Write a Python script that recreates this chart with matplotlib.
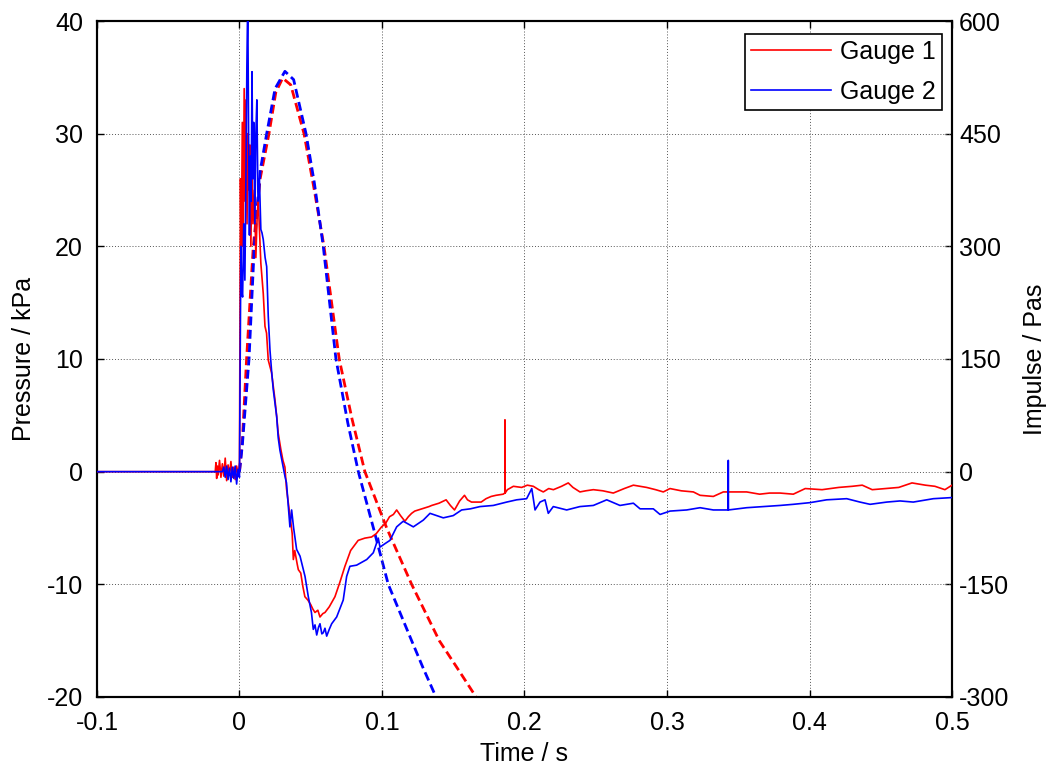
import matplotlib
matplotlib.use("Agg")
import matplotlib.pyplot as plt

plt.rcParams['font.family'] = ['Liberation Sans', 'DejaVu Sans']
plt.rcParams['axes.unicode_minus'] = False

# ---------------- data ----------------
# Gauge 1 pressure (kPa)
g1_t = [-0.1, -0.017, -0.0165, -0.016, -0.0155, -0.015, -0.014, -0.013, -0.012, -0.011,
        -0.010, -0.009, -0.008, -0.007, -0.006, -0.005, -0.004, -0.003, -0.002, -0.001,
        0.0, 0.0007, 0.0012, 0.0020, 0.0026, 0.0033, 0.0040, 0.0046, 0.0053, 0.0060,
        0.0066, 0.0073, 0.0080, 0.0088, 0.0095, 0.0105, 0.0115, 0.0125, 0.0132, 0.0150,
        0.0167, 0.0179, 0.0190, 0.0202, 0.0225, 0.0249, 0.0262, 0.0272, 0.0290, 0.0305,
        0.0319, 0.0330, 0.0345, 0.0360, 0.0370, 0.0378, 0.0388, 0.0395, 0.0405, 0.0413,
        0.0430, 0.0445, 0.0459, 0.0480, 0.0500, 0.0515, 0.0530, 0.0550, 0.0565, 0.0585,
        0.0600, 0.0630, 0.0670, 0.0705, 0.0740, 0.0780, 0.0833, 0.0880, 0.0927, 0.0960,
        0.0997, 0.1025, 0.1053, 0.1080, 0.1103, 0.1130, 0.1161, 0.1185, 0.1208, 0.1230,
        0.1254, 0.1280, 0.1305, 0.1330, 0.1349, 0.1400, 0.1450, 0.1480, 0.1509, 0.1545,
        0.1579, 0.1600, 0.1628, 0.1696, 0.1730, 0.1766, 0.1800, 0.1850, 0.1862, 0.1863,
        0.1864, 0.1880, 0.1922, 0.1980, 0.2020, 0.2062, 0.2100, 0.2132, 0.2170, 0.2203,
        0.2260, 0.2307, 0.2340, 0.2389, 0.2430, 0.2483, 0.2550, 0.2623, 0.2700, 0.2764,
        0.2810, 0.2857, 0.2920, 0.2974, 0.3021, 0.3100, 0.3185, 0.3232, 0.3325, 0.3395,
        0.3489, 0.3559, 0.3650, 0.3720, 0.3793, 0.3886, 0.3970, 0.4088, 0.4205, 0.4300,
        0.4370, 0.4440, 0.4533, 0.4626, 0.4719, 0.4813, 0.4880, 0.4950, 0.5000]
g1_p = [0.0, 0.0, 0.8, -0.6, 0.5, -0.3, 1.0, -0.5, 0.7, -0.4,
        1.2, -0.8, 0.6, -0.3, 0.9, -0.5, 0.4, -0.7, 0.5, -0.2,
        0.3, 26.0, 18.0, 31.0, 20.0, 34.0, 24.0, 33.0, 22.0, 30.0,
        25.0, 29.0, 20.0, 27.0, 22.0, 25.0, 19.0, 23.0, 24.0, 18.5,
        15.8, 12.9, 12.3, 9.9, 8.8, 6.4, 4.8, 3.4, 2.0, 1.0,
        0.4, -1.5, -3.0, -4.5, -5.5, -7.8, -7.0, -7.5, -8.2, -8.7,
        -9.0, -10.2, -11.1, -11.4, -11.8, -12.2, -12.5, -12.3, -12.9, -12.6,
        -12.5, -12.0, -11.1, -9.8, -8.4, -7.0, -6.1, -5.9, -5.8, -5.5,
        -4.9, -4.6, -4.0, -3.8, -3.4, -3.9, -4.4, -4.0, -3.7, -3.5,
        -3.4, -3.3, -3.2, -3.1, -3.0, -2.8, -2.5, -3.0, -3.4, -2.6,
        -2.1, -2.5, -2.7, -2.7, -2.4, -2.2, -2.1, -2.0, -1.9, 4.6,
        -1.9, -1.6, -1.3, -1.4, -1.2, -1.3, -1.6, -1.8, -1.5, -1.6,
        -1.3, -1.0, -1.4, -1.8, -1.7, -1.6, -1.7, -1.9, -1.5, -1.2,
        -1.3, -1.4, -1.6, -1.8, -1.5, -1.7, -1.8, -2.1, -2.2, -1.8,
        -1.8, -1.8, -2.0, -1.9, -1.9, -2.0, -1.5, -1.6, -1.4, -1.3,
        -1.2, -1.6, -1.5, -1.4, -1.0, -1.2, -1.3, -1.6, -1.2]

# Gauge 2 pressure (kPa)
g2_t = [-0.1, -0.012, -0.011, -0.010, -0.009, -0.008, -0.007, -0.006, -0.005, -0.004,
        -0.003, -0.002, -0.001, 0.0, 0.0006, 0.0010, 0.0016, 0.0022, 0.0030, 0.0038,
        0.0046, 0.0052, 0.0058, 0.0064, 0.0070, 0.0076, 0.0082, 0.0088, 0.0094, 0.0100,
        0.0108, 0.0115, 0.0122, 0.0130, 0.0140, 0.0150, 0.0158, 0.0167, 0.0180, 0.0191,
        0.0202, 0.0214, 0.0225, 0.0237, 0.0250, 0.0261, 0.0272, 0.0284, 0.0307, 0.0319,
        0.0330, 0.0354, 0.0366, 0.0380, 0.0401, 0.0425, 0.0460, 0.0483, 0.0505, 0.0518,
        0.0530, 0.0542, 0.0555, 0.0565, 0.0578, 0.0588, 0.0600, 0.0612, 0.0630, 0.0647,
        0.0682, 0.0728, 0.0752, 0.0775, 0.0822, 0.0893, 0.0939, 0.0974, 0.0986, 0.1020,
        0.1056, 0.1103, 0.1149, 0.1220, 0.1290, 0.1337, 0.1430, 0.1500, 0.1559, 0.1620,
        0.1688, 0.1781, 0.1875, 0.1945, 0.2015, 0.2051, 0.2074, 0.2109, 0.2144, 0.2167,
        0.2202, 0.2296, 0.2389, 0.2483, 0.2577, 0.2670, 0.2764, 0.2811, 0.2904, 0.2951,
        0.3021, 0.3138, 0.3232, 0.3325, 0.3429, 0.3430, 0.3431, 0.3559, 0.3676, 0.3793,
        0.3886, 0.4004, 0.4120, 0.4261, 0.4354, 0.4425, 0.4542, 0.4635, 0.4728, 0.4869,
        0.5000]
g2_p = [0.0, 0.0, 0.4, -0.5, 0.5, -0.7, 0.3, -0.9, 0.4, -0.6,
        0.5, -1.1, 0.2, -0.5, 12.0, 20.0, 16.0, 15.5, 22.0, 17.0,
        27.0, 36.0, 42.0, 30.0, 21.0, 28.0, 24.0, 35.5, 26.0, 31.0,
        22.0, 30.0, 33.0, 24.0, 26.0, 21.5, 21.2, 20.6, 19.0, 18.2,
        13.8, 10.8, 9.0, 7.3, 6.0, 4.9, 3.0, 1.9, 0.4, -0.4,
        -1.0, -4.9, -3.4, -5.0, -6.9, -7.5, -9.3, -11.1, -12.5, -14.0,
        -13.6, -14.5, -13.8, -13.5, -14.4, -14.3, -13.9, -14.6, -14.0, -13.5,
        -12.9, -11.4, -9.3, -8.4, -8.3, -7.8, -7.2, -5.9, -6.7, -6.4,
        -6.1, -4.9, -4.4, -4.9, -4.3, -3.7, -4.1, -3.9, -3.4, -3.3,
        -3.1, -3.0, -2.7, -2.5, -2.4, -1.5, -3.4, -2.7, -2.5, -3.7,
        -3.1, -3.4, -3.1, -3.0, -2.5, -3.0, -2.8, -3.3, -3.3, -3.8,
        -3.5, -3.4, -3.2, -3.4, -3.4, 1.0, -3.4, -3.2, -3.1, -3.0,
        -2.9, -2.75, -2.5, -2.4, -2.7, -2.9, -2.7, -2.6, -2.7, -2.4,
        -2.3]

# Impulse (Pa s)
i1_t = [0.0, 0.0020, 0.0050, 0.0097, 0.0145, 0.0207, 0.0255, 0.0303, 0.0360, 0.0453,
        0.0525, 0.0593, 0.0700, 0.0790, 0.0880, 0.1033, 0.1208, 0.1402, 0.1530, 0.1660,
        0.1700]
i1_v = [0.0, 40.0, 150.0, 300.0, 390.0, 450.0, 505.0, 524.0, 515.0, 450.0,
        375.0, 300.0, 150.0, 70.0, 0.0, -75.0, -150.0, -225.0, -262.0, -300.0,
        -311.0]
i2_t = [0.0, 0.0020, 0.0067, 0.0104, 0.0145, 0.0191, 0.0250, 0.0319, 0.0380, 0.0467,
        0.0525, 0.0588, 0.0677, 0.0760, 0.0834, 0.0944, 0.1044, 0.1208, 0.1290, 0.1379,
        0.1410]
i2_v = [0.0, 35.0, 150.0, 300.0, 400.0, 450.0, 510.0, 533.0, 522.0, 450.0,
        385.0, 300.0, 150.0, 65.0, 0.0, -78.0, -150.0, -225.0, -262.0, -300.0,
        -312.0]

x_ticks = [-0.1, 0, 0.1, 0.2, 0.3, 0.4, 0.5]
x_ticklabels = ['-0.1', '0', '0.1', '0.2', '0.3', '0.4', '0.5']
yl_ticks = [-20, -10, 0, 10, 20, 30, 40]
yr_ticks = [-300, -150, 0, 150, 300, 450, 600]

# ---------------- figure ----------------
FS = 18
fig = plt.figure(figsize=(10.55, 7.67), dpi=100)
ax = fig.add_axes([0.0919, 0.0913, 0.9024 - 0.0919, 0.9726 - 0.0913])

ax.plot(g1_t, g1_p, color='#ff0000', lw=1.2, label='Gauge 1', zorder=3)
ax.plot(g2_t, g2_p, color='#0000ff', lw=1.2, label='Gauge 2', zorder=4)

ax.set_xlim(-0.1, 0.5)
ax.set_ylim(-20, 40)
ax.set_xticks(x_ticks)
ax.set_xticklabels(x_ticklabels)
ax.set_yticks(yl_ticks)
ax.grid(True, color='#555555', linestyle=(0, (1, 2)), linewidth=0.7)
ax.tick_params(direction='in', top=True, right=False, labelsize=FS, length=5, width=1)
ax.tick_params(axis='x', pad=10)
ax.tick_params(axis='y', pad=10)
ax.set_xlabel('Time / s', fontsize=FS, labelpad=5)
ax.set_ylabel('Pressure / kPa', fontsize=FS, labelpad=8)
for s in ax.spines.values():
    s.set_linewidth(1.5)

leg = ax.legend(loc='upper right', bbox_to_anchor=(0.9883, 0.9808), fontsize=FS,
                frameon=True, fancybox=False, edgecolor='black', framealpha=1,
                borderpad=0.25, handlelength=3.2, labelspacing=0.62,
                handletextpad=0.35, borderaxespad=0.0)
leg.get_frame().set_linewidth(1.2)
leg.set_zorder(10)

ax2 = ax.twinx()
ax2.plot(i1_t, i1_v, color='#ff0000', lw=2.0, linestyle=(0, (3.2, 1.6)), clip_on=True)
ax2.plot(i2_t, i2_v, color='#0000ff', lw=2.0, linestyle=(0, (3.2, 1.6)), clip_on=True)
ax2.set_ylim(-300, 600)
ax2.set_yticks(yr_ticks)
ax2.tick_params(direction='in', labelsize=FS, length=5, width=1, pad=5)
ax2.set_ylabel('Impulse / Pas', fontsize=FS, labelpad=10)
for s in ax2.spines.values():
    s.set_linewidth(1.5)
ax.set_zorder(ax2.get_zorder() + 1)
ax.patch.set_visible(False)

fig.savefig('out.png', dpi=100, facecolor='white')
